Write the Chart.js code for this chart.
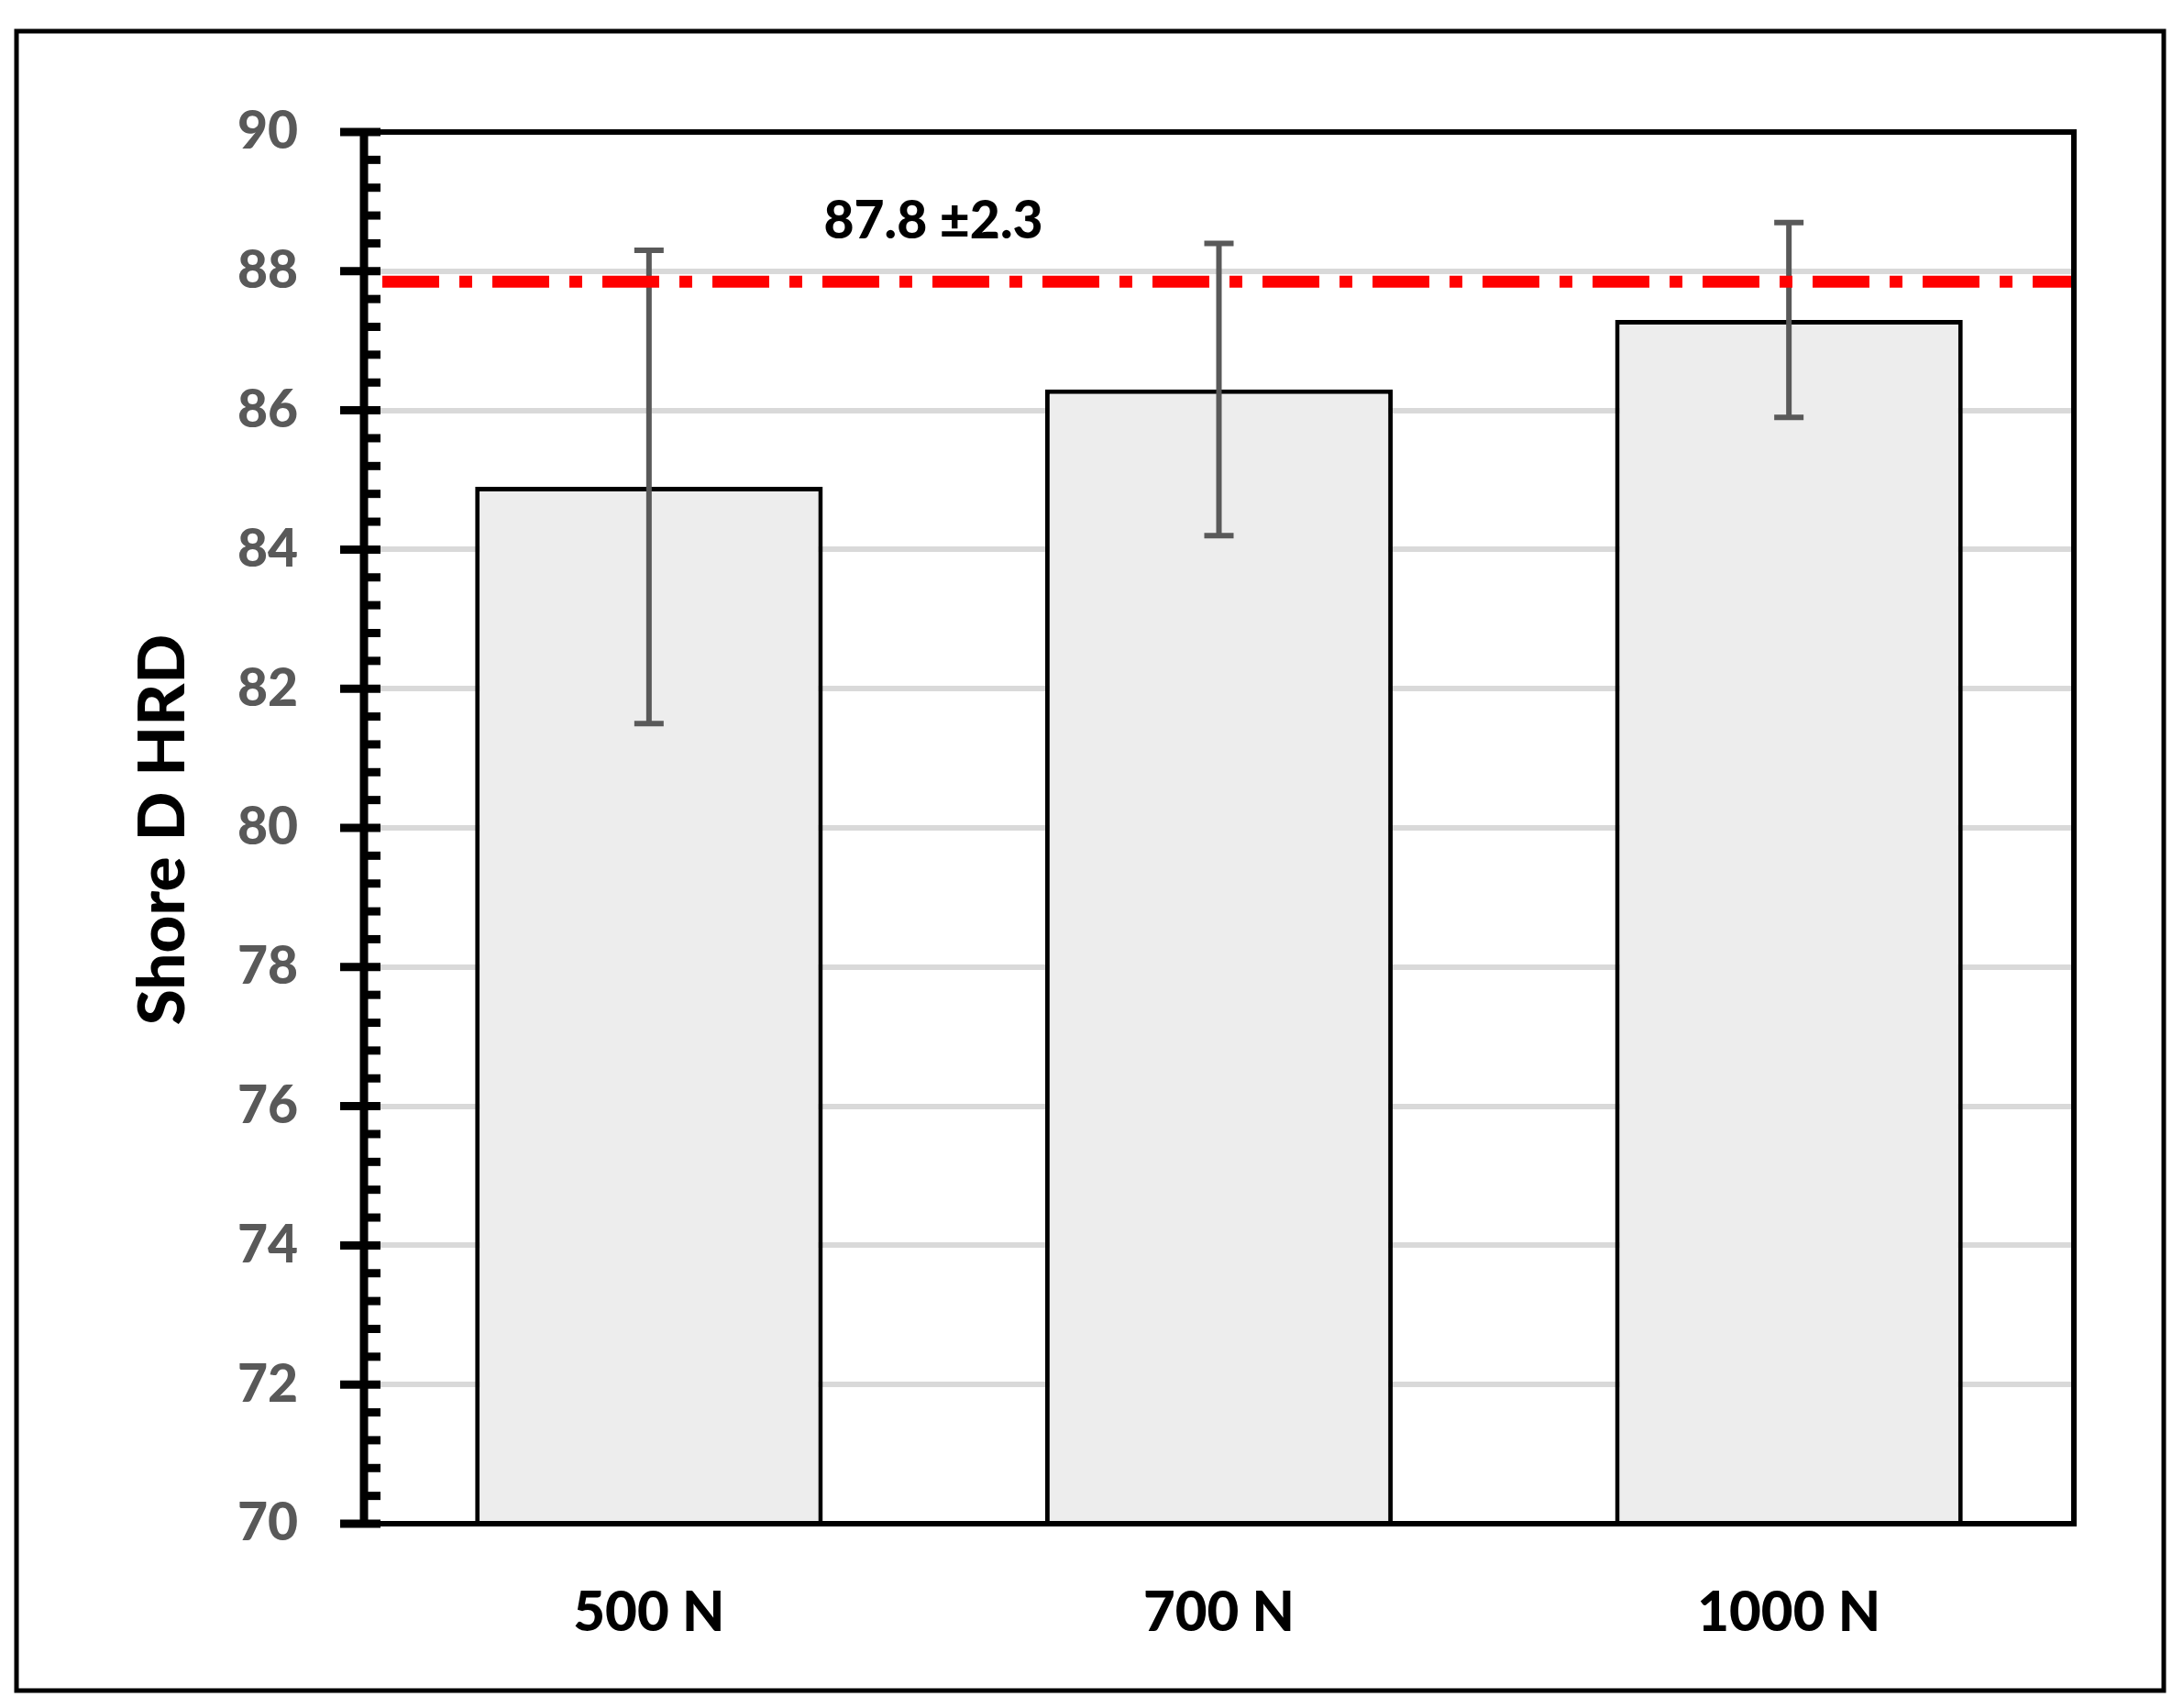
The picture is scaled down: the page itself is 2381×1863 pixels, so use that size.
<!DOCTYPE html>
<html>
<head>
<meta charset="utf-8">
<script src="https://cdn.jsdelivr.net/npm/chart.js@4"></script>
<style>
  body { margin: 0; background: #fff; }
  #wrap { width: 2381px; height: 1863px; }
</style>
</head>
<body>
<div id="wrap"><canvas id="c" width="2381" height="1863"></canvas></div>
<script>
const categories = ["500 N", "700 N", "1000 N"];
const hardness = [84.9, 86.3, 87.3];
const errLow = [81.5, 84.2, 85.9];
const errHigh = [88.3, 88.4, 88.7];
const refValue = 87.85;
const refLabel = "87.8 ±2.3";
const yTicks = [70, 72, 74, 76, 78, 80, 82, 84, 86, 88, 90];

const FONT = "Lato, 'Open Sans', sans-serif";

const extras = {
  id: "extras",
  afterDatasetsDraw(chart) {
    const ctx = chart.ctx;
    const y = chart.scales.y, x = chart.scales.x;
    const a = chart.chartArea;
    ctx.save();
    // error bars
    ctx.strokeStyle = "#595959";
    ctx.lineWidth = 6;
    hardness.forEach((v, i) => {
      const cx = x.getPixelForValue(i);
      const y1 = y.getPixelForValue(errLow[i]);
      const y2 = y.getPixelForValue(errHigh[i]);
      ctx.beginPath();
      ctx.moveTo(cx, y1); ctx.lineTo(cx, y2);
      ctx.moveTo(cx - 16, y1); ctx.lineTo(cx + 16, y1);
      ctx.moveTo(cx - 16, y2); ctx.lineTo(cx + 16, y2);
      ctx.stroke();
    });
    // reference line
    const ry = y.getPixelForValue(refValue);
    ctx.strokeStyle = "#ff0000";
    ctx.lineWidth = 13;
    ctx.setLineDash([62, 22, 14, 22]);
    ctx.beginPath();
    ctx.moveTo(a.left + 20, ry); ctx.lineTo(a.right, ry);
    ctx.stroke();
    ctx.setLineDash([]);
    ctx.fillStyle = "#000";
    ctx.font = "900 57px " + FONT;
    ctx.textAlign = "center";
    ctx.textBaseline = "middle";
    ctx.fillText(refLabel, 1018, 242);
    // plot frame
    ctx.strokeStyle = "#000";
    ctx.lineWidth = 6;
    ctx.strokeRect(a.left, a.top, a.right - a.left, a.bottom - a.top);
    ctx.lineWidth = 9;
    ctx.beginPath();
    ctx.moveTo(a.left, a.top - 3); ctx.lineTo(a.left, a.bottom + 3);
    ctx.stroke();
    // ticks
    for (let v = 70; v <= 90.001; v += 0.4) {
      const py = y.getPixelForValue(v);
      const major = Math.abs(v / 2 - Math.round(v / 2)) < 0.01;
      ctx.lineWidth = 9;
      ctx.beginPath();
      ctx.moveTo(major ? a.left - 26 : a.left, py);
      ctx.lineTo(a.left + 18, py);
      ctx.stroke();
    }
    // y title
    ctx.save();
    ctx.translate(178, 905);
    ctx.rotate(-Math.PI / 2);
    ctx.font = "900 71px " + FONT;
    ctx.fillText("Shore D HRD", 0, 0);
    ctx.restore();
    // outer border
    ctx.lineWidth = 5;
    ctx.strokeRect(18, 34, 2342, 1810);
    ctx.restore();
  }
};

new Chart(document.getElementById("c"), {
  type: "bar",
  data: {
    labels: categories,
    datasets: [{
      data: hardness,
      backgroundColor: "#ededed",
      borderColor: "#000",
      borderWidth: 5,
      borderSkipped: "bottom",
      barPercentage: 0.61,
      categoryPercentage: 1
    }]
  },
  options: {
    responsive: false,
    animation: false,
    devicePixelRatio: 1,
    layout: { padding: { left: 0, top: 144, right: 119, bottom: 0 } },
    plugins: { legend: { display: false }, tooltip: { enabled: false } },
    scales: {
      y: {
        min: 70, max: 90,
        afterFit: s => { s.width = 397; },
        afterBuildTicks: s => { s.ticks = yTicks.map(v => ({ value: v })); },
        grid: { color: "#d9d9d9", lineWidth: 6, drawTicks: false },
        border: { display: false },
        ticks: { color: "#595959", font: { family: FONT, size: 57, weight: "900" }, padding: 72 }
      },
      x: {
        afterFit: s => { s.height = 201; },
        grid: { display: false },
        border: { display: false },
        ticks: { color: "#000", font: { family: FONT, size: 60, weight: "900" }, padding: 54 }
      }
    }
  },
  plugins: [extras]
});
</script>
</body>
</html>
